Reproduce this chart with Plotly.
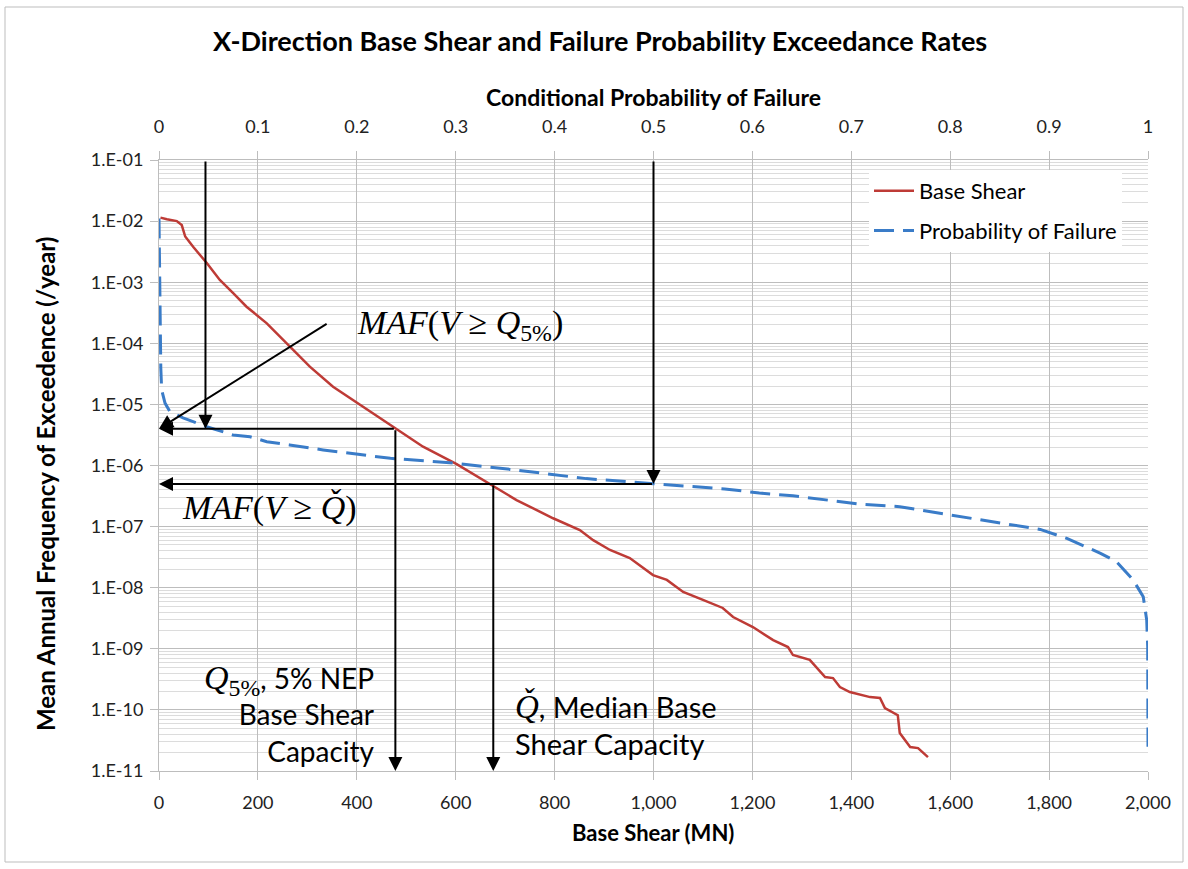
import numpy as np
import plotly.graph_objects as go

# ---------------- data ----------------
# Base Shear (MN) vs mean annual frequency of exceedance
bs_shear = [3, 16, 36, 46, 53, 69, 97, 123, 150, 177, 218, 265, 305, 352, 412, 477,
            534, 602, 669, 723, 797, 851, 878, 912, 952, 999, 1027, 1060, 1100, 1140,
            1161, 1201, 1242, 1272, 1282, 1316, 1347, 1363, 1377, 1397, 1438, 1458,
            1468, 1494, 1498, 1519, 1535, 1555]
bs_maf = [1.14e-2, 1.07e-2, 1.00e-2, 8.6e-3, 5.6e-3, 3.8e-3, 2.04e-3, 1.09e-3, 6.65e-4,
          3.97e-4, 2.12e-4, 8.8e-5, 4.14e-5, 1.95e-5, 9.2e-6, 4.1e-6, 2.03e-6, 1.05e-6,
          5.0e-7, 2.72e-7, 1.37e-7, 8.8e-8, 6.0e-8, 4.14e-8, 3.06e-8, 1.61e-8, 1.34e-8,
          8.5e-9, 6.3e-9, 4.66e-9, 3.31e-9, 2.27e-9, 1.39e-9, 1.07e-9, 7.9e-10, 6.6e-10,
          3.45e-10, 3.32e-10, 2.37e-10, 1.96e-10, 1.62e-10, 1.57e-10, 1.07e-10, 8.2e-11,
          4.18e-11, 2.46e-11, 2.37e-11, 1.69e-11]

# Conditional probability of failure vs mean annual frequency of exceedance
pf_prob = [0.0, 0.0003, 0.0006, 0.001, 0.0018, 0.0027, 0.0061, 0.0111, 0.0243, 0.0482,
           0.0748, 0.092, 0.109, 0.132, 0.166, 0.234, 0.294, 0.362, 0.432, 0.500, 0.572,
           0.607, 0.641, 0.711, 0.749, 0.800, 0.850, 0.891, 0.918, 0.952, 0.968, 0.985,
           0.9952, 0.9987, 0.9997, 0.9999, 1.0]
pf_maf = [1.1e-2, 3e-3, 8e-4, 1.5e-4, 4e-5, 1.72e-5, 1.05e-5, 7.6e-6, 6.0e-6, 4.31e-6,
          3.16e-6, 2.96e-6, 2.45e-6, 2.17e-6, 1.80e-6, 1.31e-6, 1.11e-6, 8.4e-7, 6.1e-7,
          5.03e-7, 4.14e-7, 3.55e-7, 3.19e-7, 2.31e-7, 2.12e-7, 1.55e-7, 1.16e-7, 9.0e-8,
          6.4e-8, 3.65e-8, 2.67e-8, 1.34e-8, 7.1e-9, 2.96e-9, 1.08e-9, 2e-10, 2.5e-11]

# key results marked on the chart
Q5 = 478          # 5% NEP base shear capacity (MN)
Q_MED = 676       # median base shear capacity (MN)
MAF_Q5 = 4.0e-6   # MAF(V >= Q5%)
MAF_QMED = 5.0e-7 # MAF(V >= Q median)
P_Q5 = 0.047      # conditional probability of failure at Q5 level
P_MED = 0.5

# axis ticks
x_ticks = list(range(0, 2001, 200))
x_ticktext = [f"{v:,}" for v in x_ticks]
x2_ticks = [round(0.1 * i, 1) for i in range(11)]
x2_ticktext = ["0"] + [f"{v:g}" for v in x2_ticks[1:-1]] + ["1"]
y_exps = list(range(-1, -12, -1))
y_ticks = [10.0 ** e for e in y_exps]
y_ticktext = [f"1.E-{abs(e):02d}" for e in y_exps]

# ---------------- styling ----------------
FONT = "Lato, Carlito, Calibri, sans-serif"
MATH = "Liberation Serif, Cambria, serif"
RED = "#BE3B36"
BLUE = "#3A7CC8"
GRID = "#BDBDBD"
MINOR = "#DCDCDC"

fig = go.Figure()
fig.add_trace(go.Scatter(x=bs_shear, y=bs_maf, mode="lines", name="Base Shear",
                         legendgroup="a", line=dict(color=RED, width=2.5),
                         xaxis="x", yaxis="y"))
fig.add_trace(go.Scatter(x=pf_prob, y=pf_maf, mode="lines", name="Probability of Failure",
                         legendgroup="b", line=dict(color=BLUE, width=3, dash="20px,9px"),
                         xaxis="x2", yaxis="y"))

L, R, T, B = 159, 40, 160, 98
W, H = 1188, 869
PW, PH = W - L - R, H - T - B


def px(xpix):
    return (xpix - L) / PW


def py(ypix):
    return 1 - (ypix - T) / PH


annotations = []
lg = np.log10


def arrow(x, y, ax, ay, xref="x", axref="x"):
    annotations.append(dict(x=x, y=y, ax=ax, ay=ay, xref=xref, yref="y", axref=axref,
                            ayref="y", text="", showarrow=True, arrowhead=2, arrowsize=1.4,
                            arrowwidth=2, arrowcolor="black", standoff=0, startstandoff=0))


# vertical arrows from the top down to the failure probability curve
arrow(P_Q5, lg(MAF_Q5), P_Q5, -1, xref="x2", axref="x2")
arrow(P_MED, lg(MAF_QMED), P_MED, -1, xref="x2", axref="x2")
# horizontal arrows to the y axis
arrow(0, lg(MAF_Q5), Q5, lg(MAF_Q5))
arrow(0, lg(MAF_QMED), 2000 * P_MED, lg(MAF_QMED))
# vertical arrows to the x axis
arrow(Q5, -11, Q5, lg(MAF_Q5))
arrow(Q_MED, -11, Q_MED, lg(MAF_QMED))
# diagonal pointer from label
arrow(0, lg(MAF_Q5), 342, -3.668)

# texts
annotations += [
    dict(text="<b>X-Direction Base Shear and Failure Probability Exceedance Rates</b>",
         xref="paper", yref="paper", x=px(600), y=py(40), xanchor="center", yanchor="middle",
         showarrow=False, font=dict(family=FONT, size=27, color="#000")),
    dict(text="<b>Conditional Probability of Failure</b>", xref="paper", yref="paper",
         x=px(653), y=py(97), xanchor="center", yanchor="middle", showarrow=False,
         font=dict(family=FONT, size=23, color="#000")),
    dict(text="<b>Base Shear (MN)</b>", xref="paper", yref="paper", x=px(653), y=py(832),
         xanchor="center", yanchor="middle", showarrow=False,
         font=dict(family=FONT, size=22, color="#000")),
    dict(text="<b>Mean Annual Frequency of Exceedence (/year)</b>", xref="paper", yref="paper",
         x=px(45), y=py(484), xanchor="center", yanchor="middle", textangle=-90,
         showarrow=False, font=dict(family=FONT, size=24, color="#000")),
    dict(text="<i>MAF</i>(<i>V</i> ≥ <i>Q</i><sub>5%</sub>)", xref="paper", yref="paper",
         x=px(355), y=py(325), xanchor="left", yanchor="middle", showarrow=False,
         font=dict(family=MATH, size=34, color="#000")),
    dict(text="<i>MAF</i>(<i>V</i> ≥ <i>Q̌</i>)", xref="paper", yref="paper",
         x=px(180), y=py(508), xanchor="left", yanchor="middle", showarrow=False,
         font=dict(family=MATH, size=34, color="#000")),
    dict(text=f"<span style='font-family:{MATH};font-size:34px'><i>Q</i><sub>5%</sub></span>, 5% NEP<br>Base Shear<br>Capacity",
         xref="paper", yref="paper", x=px(377), y=py(713), xanchor="right", yanchor="middle",
         align="right", showarrow=False, font=dict(family=FONT, size=28, color="#000")),
    dict(text=f"<span style='font-family:{MATH};font-size:33px'><i>Q̌</i></span>, Median Base<br>Shear Capacity",
         xref="paper", yref="paper", x=px(513), y=py(724), xanchor="left", yanchor="middle",
         align="left", showarrow=False, font=dict(family=FONT, size=29, color="#000")),
]

tickfont = dict(family=FONT, size=18, color="#222")

fig.update_layout(
    width=W, height=H, autosize=False,
    margin=dict(l=L, r=R, t=T, b=B),
    paper_bgcolor="white", plot_bgcolor="white",
    showlegend=True,
    legend=dict(x=px(869), y=py(170), xanchor="left", yanchor="top", bgcolor="white",
                font=dict(family=FONT, size=22, color="#000"), tracegroupgap=8,
                itemwidth=40, traceorder="grouped"),
    xaxis=dict(range=[0, 2000], tickvals=x_ticks, ticktext=x_ticktext, showgrid=True,
               gridcolor=GRID, gridwidth=1, ticks="outside", ticklen=8, tickcolor=GRID,
               showline=True, linecolor=GRID, zeroline=False, tickfont=tickfont,
               ticklabelstandoff=7),
    xaxis2=dict(range=[0, 1], overlaying="x", side="top", tickvals=x2_ticks,
                ticktext=x2_ticktext, showgrid=False, ticks="outside", ticklen=8,
                tickcolor=GRID, showline=True, linecolor=GRID, zeroline=False,
                tickfont=tickfont, ticklabelstandoff=11),
    yaxis=dict(type="log", range=[-11, -1], tickvals=y_ticks, ticktext=y_ticktext,
               showgrid=True, gridcolor=GRID, ticks="outside", ticklen=8, tickcolor=GRID,
               showline=True, linecolor=GRID, zeroline=False, tickfont=tickfont,
               ticklabelstandoff=3,
               minor=dict(dtick="D1", showgrid=True, gridcolor=MINOR, ticks="")),
    annotations=annotations,
    shapes=[dict(type="rect", xref="paper", yref="paper", x0=px(5), x1=px(1183),
                 y0=py(862), y1=py(7), line=dict(color="#BDBDBD", width=1), layer="below")],
)

fig.write_html("out.html")
